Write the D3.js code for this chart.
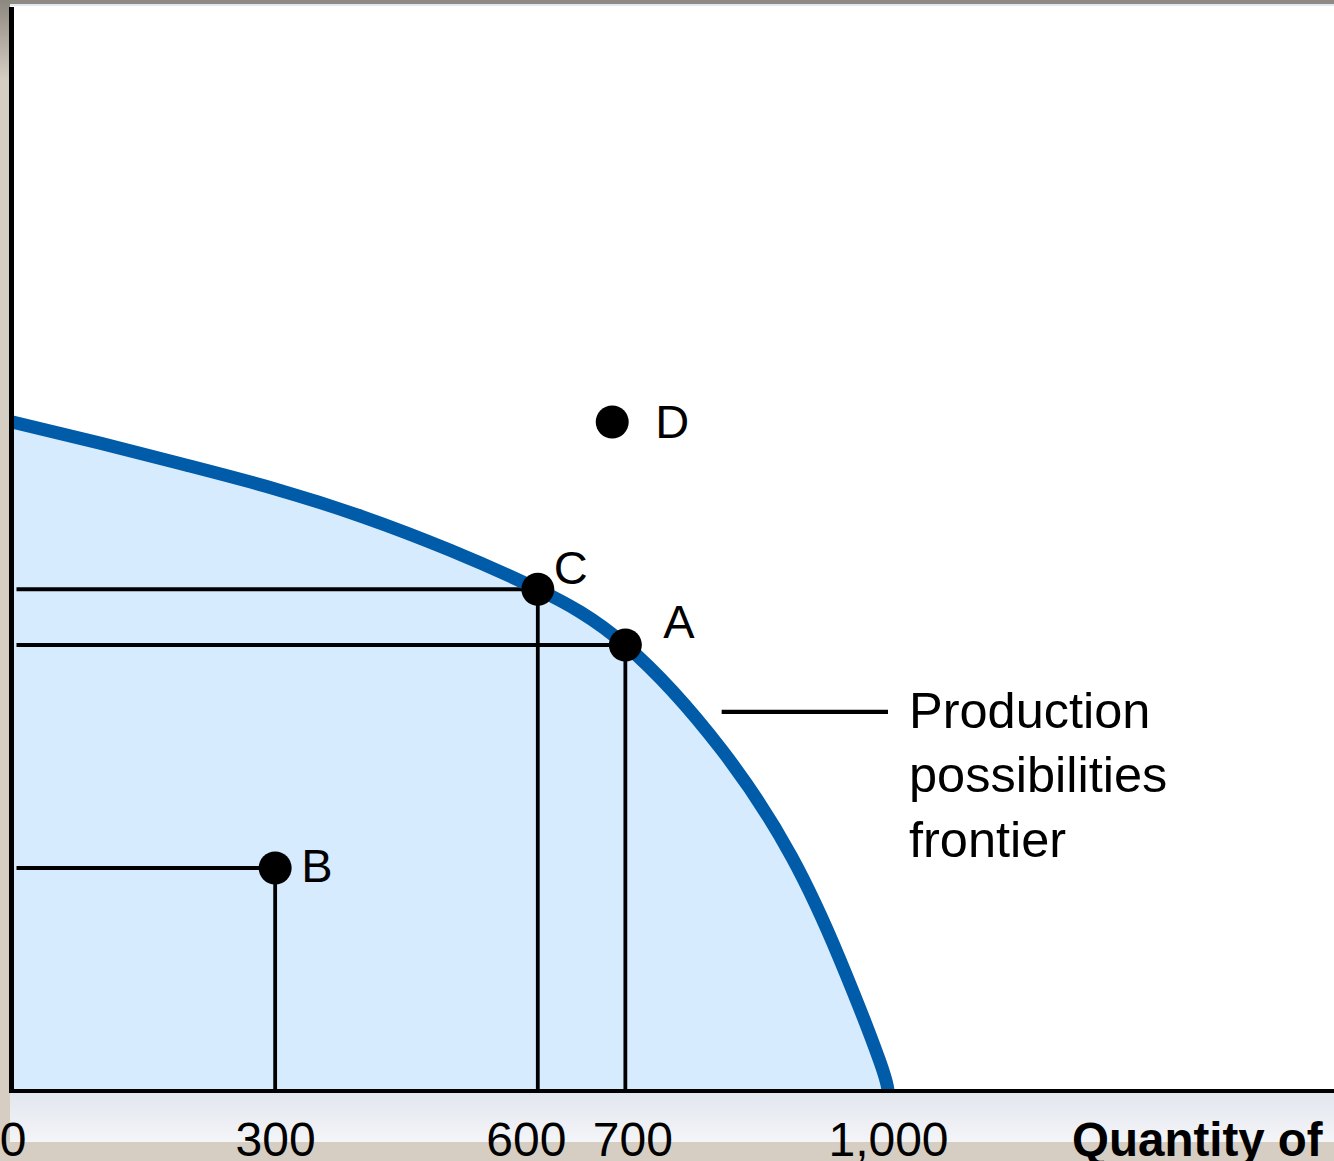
<!DOCTYPE html>
<html>
<head>
<meta charset="utf-8">
<script src="https://cdn.jsdelivr.net/npm/d3@7"></script>
<style>
  html, body { margin: 0; padding: 0; background: #ffffff; overflow: hidden; }
  svg { display: block; }
  text { font-family: "Liberation Sans", Arial, Helvetica, sans-serif; fill: #000; }
</style>
</head>
<body>
<svg id="chart" width="1334" height="1161"></svg>
<script>
// Horizontal-axis ticks
const xTicks = [0, 300, 600, 700, 1000];

// Production possibilities frontier (horizontal quantity, vertical quantity)
const frontierX = [0, 100, 200, 300, 400, 500, 600, 700, 810, 890, 945, 990, 1000];
const frontierY = [600, 581, 561, 540, 515, 485, 450, 400, 306, 210, 118, 28, 0];

// Labelled production combinations
const pointNames = ["A", "B", "C", "D"];
const pointX = [700, 300, 600, 685];
const pointY = [400, 200, 450, 600];
// combinations that get guide lines to both axes
const guidedPoints = ["A", "B", "C"];

// Callout for the frontier
const calloutLines = ["Production", "possibilities", "frontier"];
const calloutFromX = 810, calloutToX = 1000, calloutAtY = 340;

const axisTitle = "Quantity of";

// ---- layout ----
const W = 1334, H = 1161;
const svg = d3.select("#chart");

const x = d3.scaleLinear().domain([0, 1000]).range([12.5, 888]);
const y = d3.scaleLinear().domain([0, 600]).range([1091, 422]);

const BLUE = "#005ca9";
const FILL = "#d6ebfd";

// page frame around the plot
const defs = svg.append("defs");
const bandGrad = defs.append("linearGradient")
  .attr("id", "bandGrad").attr("x1", 0).attr("y1", 0).attr("x2", 0).attr("y2", 1);
bandGrad.append("stop").attr("offset", "0%").attr("stop-color", "#e2e6ee");
bandGrad.append("stop").attr("offset", "100%").attr("stop-color", "#f4f5f8");
const topGrad = defs.append("linearGradient")
  .attr("id", "topGrad").attr("x1", 0).attr("y1", 0).attr("x2", 0).attr("y2", 1);
topGrad.append("stop").attr("offset", "0%").attr("stop-color", "#8c877f");
topGrad.append("stop").attr("offset", "100%").attr("stop-color", "#d6cec3");

svg.append("rect").attr("x", 0).attr("y", 0).attr("width", W).attr("height", H).attr("fill", "#d6cec3");
svg.append("rect").attr("x", 0).attr("y", 0).attr("width", 10).attr("height", 80).attr("fill", "url(#topGrad)");
svg.append("rect").attr("x", 10).attr("y", 0).attr("width", W - 10).attr("height", 5).attr("fill", "#8f8a83");
svg.append("rect").attr("x", 10).attr("y", 4).attr("width", W - 10).attr("height", 3).attr("fill", "#e3e7ee");
svg.append("rect").attr("x", 10).attr("y", 6).attr("width", W - 10).attr("height", 1087).attr("fill", "#ffffff");
svg.append("rect").attr("x", 10).attr("y", 1093).attr("width", W - 10).attr("height", 49).attr("fill", "url(#bandGrad)");

// frontier data as pairs
const frontier = frontierX.map((d, i) => ({ q1: d, q2: frontierY[i] }));
const points = pointNames.map((n, i) => ({ name: n, q1: pointX[i], q2: pointY[i] }));

const curve = d3.curveNatural;

// attainable region under the frontier
svg.append("path")
  .datum(frontier)
  .attr("d", d3.area().curve(curve)
    .x(d => x(d.q1)).y0(y(0)).y1(d => y(d.q2)))
  .attr("fill", FILL);

// guide lines from each combination to both axes
const guides = svg.append("g").attr("stroke", "#000").attr("stroke-width", 3.8);
points.filter(p => guidedPoints.includes(p.name)).forEach(p => {
  guides.append("line")
    .attr("x1", x(0) + 4).attr("x2", x(p.q1))
    .attr("y1", y(p.q2)).attr("y2", y(p.q2));
  guides.append("line")
    .attr("x1", x(p.q1)).attr("x2", x(p.q1))
    .attr("y1", y(p.q2)).attr("y2", y(0));
});

// the frontier itself
svg.append("path")
  .datum(frontier)
  .attr("d", d3.line().curve(curve).x(d => x(d.q1)).y(d => y(d.q2)))
  .attr("fill", "none")
  .attr("stroke", BLUE)
  .attr("stroke-width", 13);

// callout leader and text
svg.append("line")
  .attr("x1", x(calloutFromX)).attr("x2", x(calloutToX))
  .attr("y1", y(calloutAtY)).attr("y2", y(calloutAtY))
  .attr("stroke", "#000").attr("stroke-width", 4.2);
svg.append("g").selectAll("text")
  .data(calloutLines)
  .join("text")
  .attr("x", x(calloutToX) + 21)
  .attr("y", (d, i) => y(calloutAtY) + 16 + i * 64.5)
  .attr("font-size", 50.5)
  .text(d => d);

// combination markers
svg.append("g").selectAll("circle")
  .data(points)
  .join("circle")
  .attr("cx", d => x(d.q1)).attr("cy", d => y(d.q2))
  .attr("r", 16.5)
  .attr("fill", "#000");

// letter placement relative to each marker
const letterOffset = { A: [38, -7], B: [26, 14], C: [16, -5], D: [43, 16] };
svg.append("g").selectAll("text")
  .data(points)
  .join("text")
  .attr("x", d => x(d.q1) + letterOffset[d.name][0])
  .attr("y", d => y(d.q2) + letterOffset[d.name][1])
  .attr("font-size", 47)
  .text(d => d.name);

// axes
svg.append("line")
  .attr("x1", 11.5).attr("x2", 11.5).attr("y1", 7).attr("y2", y(0) + 2)
  .attr("stroke", "#000").attr("stroke-width", 5);
svg.append("line")
  .attr("x1", 9).attr("x2", W).attr("y1", y(0)).attr("y2", y(0))
  .attr("stroke", "#000").attr("stroke-width", 4);

// crowded tick labels are spread apart slightly
const tickNudge = { 600: -12, 700: 7 };
const xAxis = svg.append("g")
  .attr("transform", `translate(0,${y(0)})`)
  .call(d3.axisBottom(x).tickValues(xTicks).tickSize(0).tickPadding(31)
    .tickFormat(d3.format(",")));
xAxis.select(".domain").remove();
xAxis.selectAll("text")
  .attr("font-size", 48)
  .attr("font-family", "'Liberation Sans', Arial, Helvetica, sans-serif")
  .attr("fill", "#000")
  .attr("dx", d => tickNudge[d] || 0);

svg.append("text")
  .attr("x", 1072).attr("y", 1156)
  .attr("font-size", 47.5).attr("font-weight", "bold")
  .text(axisTitle);
</script>
</body>
</html>
